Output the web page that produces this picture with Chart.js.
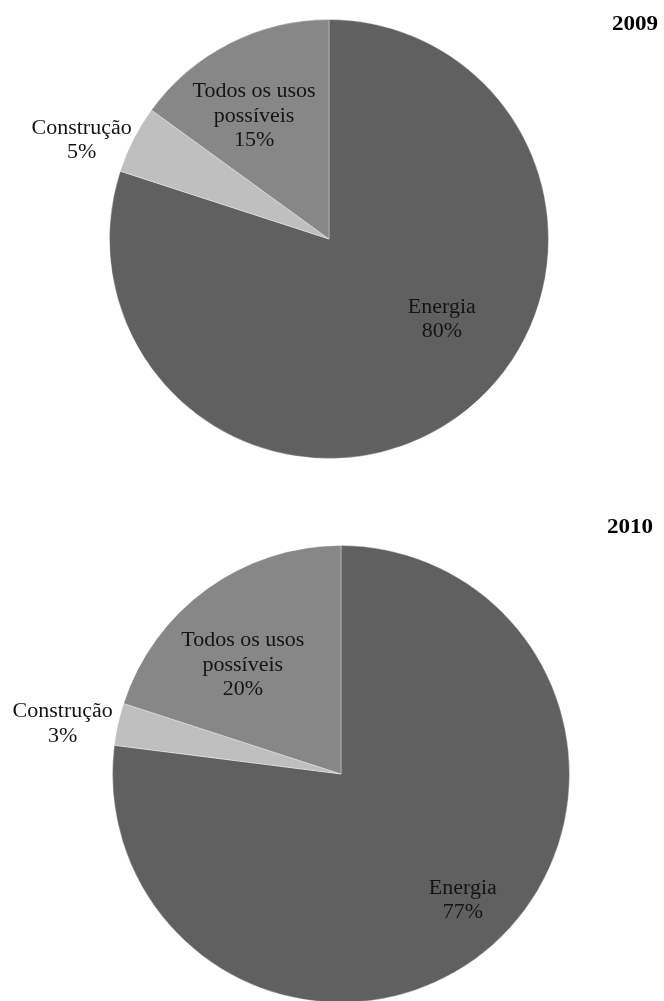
<!DOCTYPE html>
<html>
<head>
<meta charset="utf-8">
<script src="https://cdn.jsdelivr.net/npm/chart.js@4.4.1/dist/chart.umd.min.js"></script>
<style>
    html, body { margin: 0; padding: 0; background: #fff; overflow: hidden; width: 664px; height: 1001px; }
    .box { position: absolute; left: 0; width: 664px; }
    #b2009 { top: 0; height: 500px; }
    #b2010 { top: 500px; height: 510px; }
</style>
</head>
<body>
<div class="box" id="b2009"><canvas id="c2009" width="664" height="500"></canvas></div>
<div class="box" id="b2010"><canvas id="c2010" width="664" height="510"></canvas></div>
<script>
// data
const categories = ["Energia", "Construção", "Todos os usos possíveis"];
const labelLines = [["Energia"], ["Construção"], ["Todos os usos", "possíveis"]];
const years = ["2009", "2010"];
const values2009 = [80, 5, 15];
const values2010 = [77, 3, 20];

const sliceColors = ["#606060", "#bfbfbf", "#878787"];
const labelFont = "20px 'Liberation Serif', 'Times New Roman', serif";
const titleFont = "bold 21px 'Liberation Serif', 'Times New Roman', serif";

// draws the "name / value%" labels relative to each arc, plus the year title
const sliceLabels = {
    id: "sliceLabels",
    afterDatasetsDraw(chart, args, opts) {
        const ctx = chart.ctx;
        const meta = chart.getDatasetMeta(0);
        const values = chart.data.datasets[0].data;
        ctx.save();
        ctx.fillStyle = "#141414";
        ctx.textAlign = "center";
        ctx.textBaseline = "middle";
        ctx.font = labelFont;
        meta.data.forEach((arc, i) => {
            const p = opts.place[i];
            const a = (arc.startAngle + arc.endAngle) / 2 + p.shift * Math.PI / 180;
            const d = arc.outerRadius * p.dist;
            const x = arc.x + Math.cos(a) * d;
            const y = arc.y + Math.sin(a) * d;
            const lines = labelLines[i].concat([values[i] + "%"]);
            const top = y - (lines.length - 1) * opts.lineHeight / 2;
            lines.forEach((t, k) => {
                ctx.save();
                ctx.translate(x, top + k * opts.lineHeight);
                ctx.scale(opts.stretch, 1);
                ctx.fillText(t, 0, 0);
                ctx.restore();
            });
        });
        ctx.font = titleFont;
        ctx.fillStyle = "#000";
        ctx.save();
        ctx.translate(opts.title.x, opts.title.y);
        ctx.scale(opts.stretch, 1);
        ctx.fillText(opts.title.text, 0, 0);
        ctx.restore();
        ctx.restore();
    }
};

function makePie(id, values, padding, place, title) {
    return new Chart(document.getElementById(id).getContext("2d"), {
        type: "pie",
        data: {
            labels: categories,
            datasets: [{
                data: values,
                backgroundColor: sliceColors,
                borderColor: "rgba(255,255,255,0.35)",
                borderWidth: 1
            }]
        },
        options: {
            responsive: false,
            animation: false,
            layout: { padding },
            plugins: {
                legend: { display: false },
                tooltip: { enabled: false },
                sliceLabels: { place, title, lineHeight: 24.5, stretch: 1.1 }
            }
        },
        plugins: [sliceLabels]
    });
}

makePie("c2009", values2009,
    { top: 19, bottom: 41, left: 109, right: 115 },
    [{ dist: 0.632, shift: -18.4 }, { dist: 1.213, shift: -5.3 }, { dist: 0.655, shift: -4.4 }],
    { text: years[0], x: 635, y: 25 });

makePie("c2010", values2010,
    { top: 45, bottom: 7, left: 112, right: 94 },
    [{ dist: 0.769, shift: -2.5 }, { dist: 1.237, shift: -2.5 }, { dist: 0.641, shift: -6.1 }],
    { text: years[1], x: 630, y: 28 });
</script>
</body>
</html>
